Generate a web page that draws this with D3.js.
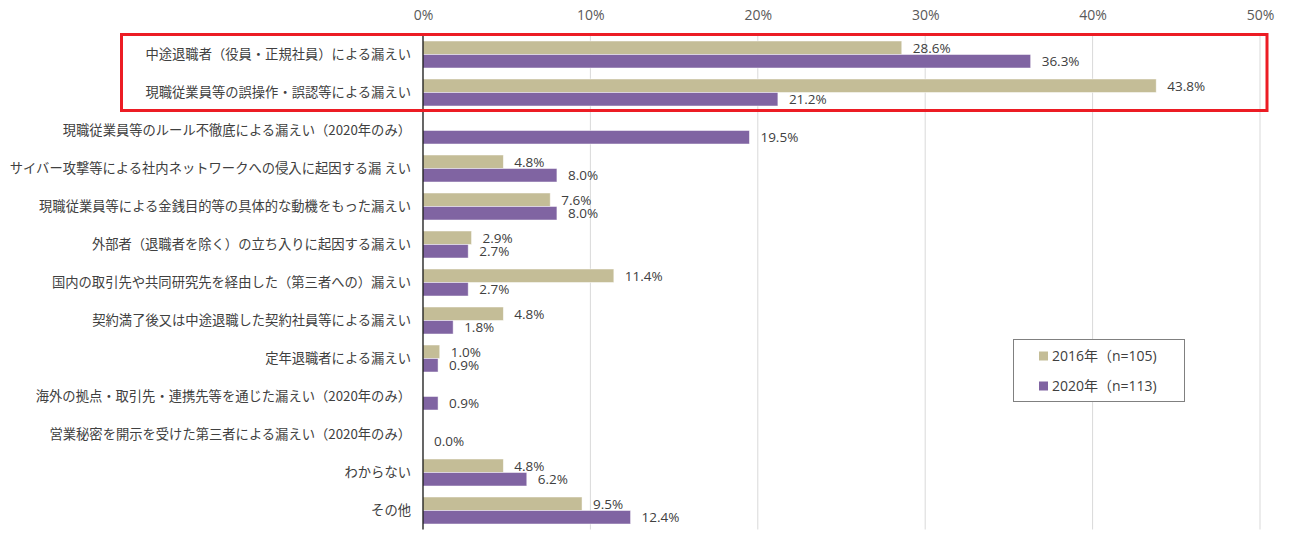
<!DOCTYPE html>
<html>
<head>
<meta charset="utf-8">
<script src="https://cdn.jsdelivr.net/npm/d3@7"></script>
<style>
  body { margin: 0; background: #fff; }
</style>
</head>
<body>
<div id="chart"></div>
<script>
var categories = [
    '中途退職者（役員・正規社員）による漏えい',
    '現職従業員等の誤操作・誤認等による漏えい',
    '現職従業員等のルール不徹底による漏えい（2020年のみ）',
    'サイバー攻撃等による社内ネットワークへの侵入に起因する漏 えい',
    '現職従業員等による金銭目的等の具体的な動機をもった漏えい',
    '外部者（退職者を除く）の立ち入りに起因する漏えい',
    '国内の取引先や共同研究先を経由した（第三者への）漏えい',
    '契約満了後又は中途退職した契約社員等による漏えい',
    '定年退職者による漏えい',
    '海外の拠点・取引先・連携先等を通じた漏えい（2020年のみ）',
    '営業秘密を開示を受けた第三者による漏えい（2020年のみ）',
    'わからない',
    'その他'
];
var values2016 = [28.6, 43.8, null, 4.8, 7.6, 2.9, 11.4, 4.8, 1.0, null, null, 4.8, 9.5];
var values2020 = [36.3, 21.2, 19.5, 8.0, 8.0, 2.7, 2.7, 1.8, 0.9, 0.9, 0.0, 6.2, 12.4];
var seriesNames = ['2016年（n=105)', '2020年（n=113)'];
var xTicks = [0, 10, 20, 30, 40, 50];

function drawChart() {
    var colors = ['#c4bd97', '#8064a2'];
    var textColor = '#404040';
    var latin = '"Open Sans", "Noto Sans CJK JP", sans-serif';
    var jp = '"Noto Sans CJK JP", sans-serif';

    var width = 1303, height = 538;
    var plotLeft = 423, plotRight = 1260, plotTop = 35.5, plotBottom = 529.5;

    var svg = d3.select('#chart').append('svg')
        .attr('width', width)
        .attr('height', height);

    var x = d3.scaleLinear().domain([0, 50]).range([plotLeft, plotRight]);
    var y = d3.scaleBand().domain(categories).range([plotTop, plotBottom]);
    var barH = 13.5;

    // gridlines
    svg.append('g').selectAll('line')
        .data(xTicks.slice(1))
        .enter().append('line')
        .attr('x1', function(d) { return x(d); })
        .attr('x2', function(d) { return x(d); })
        .attr('y1', plotTop)
        .attr('y2', plotBottom)
        .attr('stroke', '#d9d9d9')
        .attr('stroke-width', 1);

    // top axis labels
    var xAxis = d3.axisTop(x).tickValues(xTicks)
        .tickFormat(function(d) { return d + '%'; })
        .tickSize(0).tickPadding(0);
    var ax = svg.append('g')
        .attr('transform', 'translate(0,19.5)')
        .call(xAxis);
    ax.select('.domain').remove();
    ax.selectAll('text')
        .attr('font-family', latin)
        .attr('font-size', '14px')
        .attr('fill', '#595959');

    var series = [values2016, values2020];

    series.forEach(function(vals, si) {
        var g = svg.append('g');
        var rows = categories.map(function(c, i) { return { cat: c, v: vals[i] }; })
            .filter(function(d) { return d.v !== null; });

        g.selectAll('rect')
            .data(rows.filter(function(d) { return d.v > 0; }))
            .enter().append('rect')
            .attr('x', x(0))
            .attr('y', function(d) { return y(d.cat) + y.bandwidth() / 2 - barH + si * barH; })
            .attr('width', function(d) { return x(d.v) - x(0); })
            .attr('height', barH)
            .attr('fill', colors[si])
            .attr('stroke', '#ffffff')
            .attr('stroke-opacity', 0.6)
            .attr('stroke-width', 0.8);

        g.selectAll('text')
            .data(rows)
            .enter().append('text')
            .attr('x', function(d) { return x(d.v) + 11; })
            .attr('y', function(d) { return y(d.cat) + y.bandwidth() / 2 - barH / 2 + si * barH; })
            .attr('dy', '0.36em')
            .attr('font-family', latin)
            .attr('font-size', '13.5px')
            .attr('fill', textColor)
            .text(function(d) { return d.v.toFixed(1) + '%'; });
    });

    // axis lines
    svg.append('line')
        .attr('x1', plotLeft).attr('x2', plotRight)
        .attr('y1', 35).attr('y2', 35)
        .attr('stroke', '#000').attr('stroke-width', 1.2);
    svg.append('line')
        .attr('x1', plotLeft).attr('x2', plotLeft)
        .attr('y1', 35).attr('y2', plotBottom)
        .attr('stroke', '#000').attr('stroke-width', 1.2);

    // category labels
    svg.append('g').selectAll('text')
        .data(categories)
        .enter().append('text')
        .attr('x', 411)
        .attr('y', function(d) { return y(d) + y.bandwidth() / 2; })
        .attr('dy', '0.35em')
        .attr('text-anchor', 'end')
        .attr('font-family', jp)
        .attr('font-size', '13.3px')
        .attr('fill', textColor)
        .text(function(d) { return d; });

    // red highlight box
    svg.append('rect')
        .attr('x', 121.5)
        .attr('y', 34.5)
        .attr('width', 1267 - 121.5)
        .attr('height', 110.5 - 34.5)
        .attr('fill', 'none')
        .attr('stroke', '#ec1c24')
        .attr('stroke-width', 3);

    // legend
    var legend = svg.append('g');
    legend.append('rect')
        .attr('x', 1013.5).attr('y', 339.5)
        .attr('width', 171).attr('height', 62)
        .attr('fill', '#fff')
        .attr('stroke', '#808080')
        .attr('stroke-width', 1);
    seriesNames.forEach(function(name, i) {
        var cy = 356 + i * 30;
        legend.append('rect')
            .attr('x', 1039).attr('y', cy - 4.5)
            .attr('width', 9).attr('height', 9)
            .attr('fill', colors[i]);
        legend.append('text')
            .attr('x', 1052).attr('y', cy)
            .attr('dy', '0.36em')
            .attr('font-family', latin)
            .attr('font-size', '14px')
            .attr('fill', textColor)
            .text(name);
    });
}

drawChart();
</script>
</body>
</html>
